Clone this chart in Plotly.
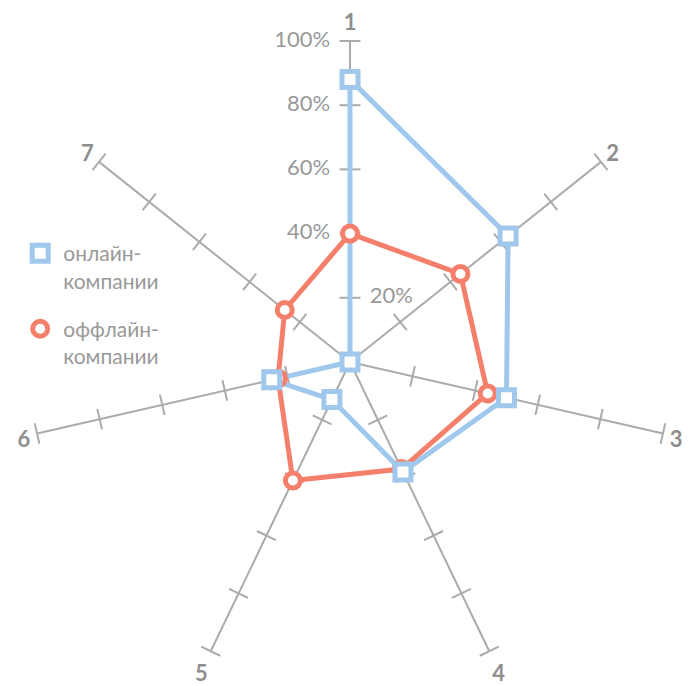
import plotly.graph_objects as go

# Categories (spokes) and series values, percent
axes_labels = ["1", "2", "3", "4", "5", "6", "7"]
online = [88, 63, 50, 38, 13, 25, 0]
offline = [40, 44, 44, 37, 41, 23, 26]
series_names = ["онлайн-<br>компании", "оффлайн-<br>компании"]

# Radial ticks drawn on every spoke
tick_values = [20, 40, 60, 80, 100]
tick_labels = ["20%", "40%", "60%", "80%", "100%"]

BLUE = "#9FC8EC"
RED = "#F4806C"
GREY = "#ABABAB"
TEXT = "#999999"
FONT = "Lato"

n = len(axes_labels)
step = 360.0 / n

fig = go.Figure()

# Perpendicular tick marks on each spoke
tick_r, tick_theta, tick_angle = [], [], []
for i, lab in enumerate(axes_labels):
    for v in tick_values:
        tick_r.append(v)
        tick_theta.append(lab)
        tick_angle.append(i * step)
fig.add_trace(go.Scatterpolar(
    r=tick_r, theta=tick_theta, mode="markers",
    marker=dict(symbol="line-ew", size=15, angle=tick_angle,
                line=dict(color=GREY, width=2)),
    showlegend=False, hoverinfo="skip",
))

# Closed polygons (lines first, markers on top)
def closed(vals):
    return list(vals) + [vals[0]]

theta_closed = closed(axes_labels)

fig.add_trace(go.Scatterpolar(
    r=closed(online), theta=theta_closed, mode="lines",
    line=dict(color=BLUE, width=5), showlegend=False, hoverinfo="skip",
))
fig.add_trace(go.Scatterpolar(
    r=closed(offline), theta=theta_closed, mode="lines",
    line=dict(color=RED, width=5), showlegend=False, hoverinfo="skip",
))
fig.add_trace(go.Scatterpolar(
    r=offline, theta=axes_labels, mode="markers", name=series_names[1],
    legendgroup="offline", legendrank=2,
    marker=dict(symbol="circle", size=15, color="white",
                line=dict(color=RED, width=5)),
))
fig.add_trace(go.Scatterpolar(
    r=online, theta=axes_labels, mode="markers", name=series_names[0],
    legendgroup="online", legendrank=1,
    marker=dict(symbol="square", size=16, color="white",
                line=dict(color=BLUE, width=5)),
))

# Percent labels along spoke 1
fig.add_trace(go.Scatterpolar(
    r=tick_values, theta=[axes_labels[0]] * len(tick_values),
    mode="markers+text", text=tick_labels,
    textposition=["middle right"] + ["middle left"] * (len(tick_values) - 1),
    textfont=dict(family=FONT, size=22, color=TEXT),
    marker=dict(size=30, opacity=0),
    showlegend=False, hoverinfo="skip",
))

fig.update_layout(
    width=689, height=686,
    margin=dict(l=0, r=0, t=0, b=0),
    paper_bgcolor="white",
    font=dict(family=FONT, color=TEXT),
    polar=dict(
        domain=dict(x=[29 / 689, 671 / 689], y=[3 / 686, 645 / 686]),
        bgcolor="white",
        angularaxis=dict(
            type="category", categoryorder="array", categoryarray=axes_labels,
            direction="clockwise", rotation=90,
            showline=False, ticks="outside", ticklen=2,
            tickcolor="rgba(0,0,0,0)",
            showgrid=True, gridcolor=GREY, gridwidth=2,
            tickfont=dict(family=FONT, size=22, color="#8E8E8E", weight="bold"),
        ),
        radialaxis=dict(
            range=[0, 100], showgrid=False, showline=False,
            showticklabels=False, ticks="",
        ),
    ),
    legend=dict(
        x=0.025, y=1 - 233 / 686, xanchor="left", yanchor="top",
        valign="top", traceorder="grouped", tracegroupgap=18,
        itemwidth=36,
        font=dict(family=FONT, size=21, color=TEXT),
        bgcolor="rgba(0,0,0,0)",
    ),
)

fig.write_html("out.html")
